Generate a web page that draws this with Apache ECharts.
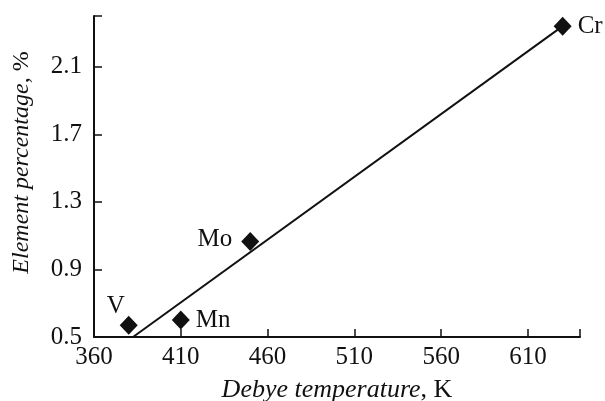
<!DOCTYPE html>
<html><head><meta charset="utf-8">
<script src="https://cdn.jsdelivr.net/npm/echarts@6/dist/echarts.min.js"></script>
<style>html,body{margin:0;padding:0;background:#fff}#c{width:605px;height:401px}</style>
</head><body><div id="c"></div>
<script>
var elements = ['V', 'Mn', 'Mo', 'Cr'];
var debyeTemp = [380, 410, 450, 630];
var percentage = [0.57, 0.6, 1.065, 2.34];
var labelPos = ['left', 'right', 'left', 'right'];
var fitX = [382.5, 630];
var fitY = [0.5, 2.34];
var xTicks = [360, 410, 460, 510, 560, 610];
var yTicks = [0.5, 0.9, 1.3, 1.7, 2.1];

var font = '"Liberation Serif", "Times New Roman", serif';
var fs = 25;
var col = '#111';
var chart = echarts.init(document.getElementById('c'), null, {renderer: 'canvas'});
var pts = debyeTemp.map(function (x, i) {
  var lbl = {show: true, position: labelPos[i], formatter: elements[i], distance: 6,
    fontFamily: font, fontSize: 25, color: col};
  if (elements[i] === 'V') { lbl.position = [-13, -22]; }
  if (elements[i] === 'Mo') { lbl.distance = 9; lbl.offset = [0, -2]; }
  return {value: [x, percentage[i]], label: lbl};
});
chart.setOption({
  animation: false,
  grid: {left: 94, right: 25, top: 16, bottom: 64, outerBoundsMode: 'none', containLabel: false},
  xAxis: {
    type: 'value', min: 360, max: 640, interval: 50,
    axisLine: {show: true, lineStyle: {color: col, width: 2}},
    axisTick: {show: true, inside: true, length: 8, lineStyle: {color: col, width: 1.5}},
    splitLine: {show: false},
    axisLabel: {fontFamily: font, fontSize: fs, color: col, margin: 8,
      formatter: function (v) { return xTicks.indexOf(v) >= 0 ? String(v) : ''; }},
    name: '{i|Debye temperature}{n|, K}', nameLocation: 'middle', nameGap: 40,
    nameTextStyle: {rich: {
      i: {fontFamily: font, fontStyle: 'italic', fontSize: 26, color: col},
      n: {fontFamily: font, fontSize: 26, color: col}}}
  },
  yAxis: {
    type: 'value', min: 0.5, max: 2.4, interval: 0.4,
    axisLine: {show: true, lineStyle: {color: col, width: 2}},
    axisTick: {show: true, inside: true, length: 8, lineStyle: {color: col, width: 1.5}},
    splitLine: {show: false},
    axisLabel: {fontFamily: font, fontSize: fs, color: col, margin: 12,
      formatter: function (v) {
        for (var k = 0; k < yTicks.length; k++) { if (Math.abs(yTicks[k] - v) < 1e-6) return yTicks[k].toFixed(1); }
        return '';
      }},
    name: '{i|Element percentage}{n|, %}', nameLocation: 'middle', nameGap: 60, nameRotate: 90,
    nameTextStyle: {padding: [0, 0, 0, 28], rich: {
      i: {fontFamily: font, fontStyle: 'italic', fontSize: 24, color: col},
      n: {fontFamily: font, fontSize: 24, color: col}}}
  },
  series: [
    {type: 'line', data: fitX.map(function (x, i) { return [x, fitY[i]]; }),
      showSymbol: false, symbol: 'none', lineStyle: {color: col, width: 2}, z: 2},
    {type: 'scatter', data: pts, symbol: 'diamond', symbolSize: [18, 19],
      itemStyle: {color: col, opacity: 1}, z: 3}
  ]
});
</script></body></html>
